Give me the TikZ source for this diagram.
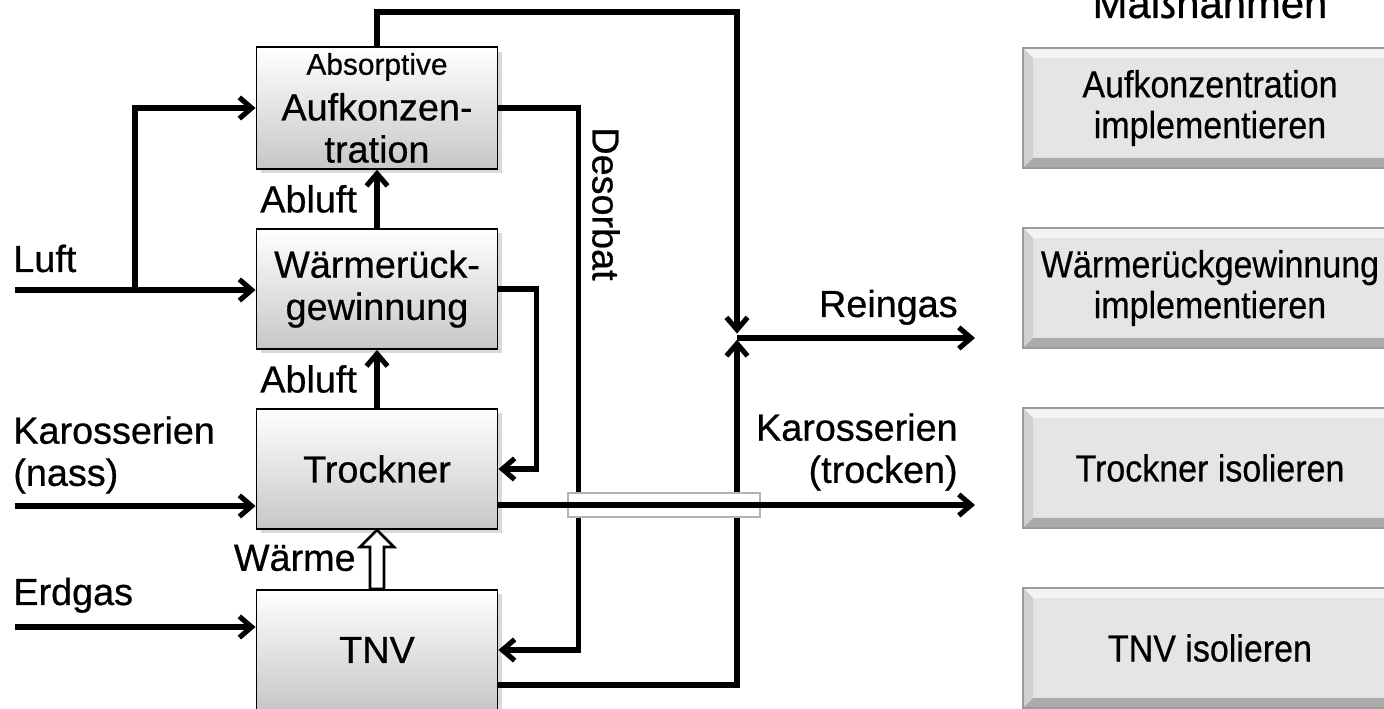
\documentclass[tikz,border=0pt]{standalone}
\usepackage{fontspec}
\setmainfont[FakeBold=0.6,AutoFakeBold=0.6]{Liberation Sans}
\newfontfamily\narrowsans[FakeStretch=0.9,FakeBold=0.5]{Liberation Sans}
\usepackage{tikz}
\usetikzlibrary{arrows.meta,positioning,calc,shadows}
\definecolor{btnface}{HTML}{E5E5E5}
\definecolor{btnedge}{HTML}{9C9C9C}
\definecolor{bvtop}{HTML}{F4F4F4}
\definecolor{bvleft}{HTML}{D0D0D0}
\definecolor{bvbot}{HTML}{ABABAB}
\definecolor{bvright}{HTML}{BEBEBE}
\newcommand{\bigfont}{\fontsize{21.5}{24}\selectfont}
\newcommand{\smallfont}{\fontsize{17}{19}\selectfont}
\tikzset{
  unit/.style={draw, line width=1.1pt, top color=white, bottom color=black!22, minimum width=4.82cm, minimum height=2.4cm, align=center, font=\bigfont, drop shadow={shadow xshift=2.5pt, shadow yshift=-2.5pt, opacity=0.3}},
  btn/.style={draw=btnedge, line width=0.8pt, fill=btnface, minimum width=7.48cm, minimum height=2.4cm, align=center, font=\narrowsans\fontsize{21.5}{23.2}\selectfont,
    path picture={
      \coordinate (nw) at (path picture bounding box.north west);
      \coordinate (ne) at (path picture bounding box.north east);
      \coordinate (sw) at (path picture bounding box.south west);
      \coordinate (se) at (path picture bounding box.south east);
      \fill[bvtop] (nw) -- (ne) -- ([shift={(-0.2cm,-0.2cm)}]ne) -- ([shift={(0.2cm,-0.2cm)}]nw) -- cycle;
      \fill[bvleft] (nw) -- (sw) -- ([shift={(0.2cm,0.2cm)}]sw) -- ([shift={(0.2cm,-0.2cm)}]nw) -- cycle;
      \fill[bvbot] (sw) -- (se) -- ([shift={(-0.2cm,0.2cm)}]se) -- ([shift={(0.2cm,0.2cm)}]sw) -- cycle;
      \fill[bvright] (ne) -- (se) -- ([shift={(-0.2cm,0.2cm)}]se) -- ([shift={(-0.2cm,-0.2cm)}]ne) -- cycle;
    }},
  lbl/.style={font=\bigfont, inner sep=0pt},
  pipe/.style={line width=2.9pt},
  flow/.style={pipe, -{Straight Barb[length=7pt,width=12pt]}},
  hollow/.style={line width=1.5pt, fill=white},
  bridge/.style={draw=black!30, fill=white, line width=0.6pt}
}
\begin{document}
\begin{tikzpicture}[x=0.02cm, y=-0.02cm]
\useasboundingbox (0,0) rectangle (1384,709);
% process units
\node[unit] (aufk) at (377,108) {{\smallfont Absorptive}\\[2pt]Aufkonzen-\\tration};
\node[unit] (wrg) at (377,289) {Wärmerück-\\gewinnung};
\node[unit] (troc) at (377,469) {Trockner};
\node[unit] (tnv) at (377,650) {TNV};
% measures
\node[font=\fontsize{23.8}{26}\selectfont, anchor=base] (head) at (1210,18) {Maßnahmen};
\node[btn] (m1) at (1210,108) {Aufkonzentration\\implementieren};
\node[btn] (m2) at (1210,288) {Wärmerückgewinnung\\implementieren};
\node[btn] (m3) at (1210,468) {Trockner isolieren};
\node[btn] (m4) at (1210,648) {TNV isolieren};
% ends of the streams
\coordinate (luft) at (15,290);
\coordinate (split) at (135,290);
\coordinate (kin) at (15,506);
\coordinate (gas) at (15,627);
\coordinate (top) at (737,12);
\coordinate (mix) at (737,338);
\coordinate (rein) at (975,338);
\coordinate (kout) at (975,505);
% inputs
\draw[flow] (luft) -- (luft -| wrg.west);
\draw[flow] (split) |- (aufk.west);
\draw[flow] (kin) -- (kin -| troc.west);
\draw[flow] (gas) -- (gas -| tnv.west);
\node[lbl, anchor=base west] (lluft) at (13,272) {Luft};
\node[lbl, anchor=west, align=left] (lkin) at (13,455) {Karosserien\\(nass)};
\node[lbl, anchor=base west] (lgas) at (13,605) {Erdgas};
% exhaust air upwards
\draw[flow] (troc) -- node[lbl, left=10pt] (lab1) {Abluft} (wrg);
\draw[flow] (wrg) -- node[lbl, left=10pt] (lab2) {Abluft} (aufk);
\draw[hollow] ($(tnv.north)+(-7,0)$) -- ($(troc.south)+(-7,17)$) -- ($(troc.south)+(-17,17)$) -- (troc.south)
  -- ($(troc.south)+(17,17)$) -- ($(troc.south)+(7,17)$) -- ($(tnv.north)+(7,0)$) -- cycle;
\node[lbl, anchor=east] (lheat) at (356,558) {Wärme};
% recycle loops
\draw[flow] (wrg.east) -| ($(troc.east)+(38,0)$) -- (troc.east);
\draw[flow] (aufk.east) -| ($(tnv.east)+(80,0)$) -- (tnv.east);
\node[lbl, rotate=-90] (ldes) at (606,204) {Desorbat};
\draw[flow, shorten >=2.5pt] (aufk.north) |- (top) -- (mix);
\draw[flow, shorten >=1pt] ($(tnv.east)+(0,35)$) -| (mix);
% outputs
\draw[flow] (mix) -- (rein);
\node[lbl, anchor=base east] (lrein) at (958,317) {Reingas};
\draw[bridge] (568,493) rectangle (760,517);
\draw[flow] ($(troc.east)+(0,36)$) -- (kout);
\node[lbl, anchor=east, align=right] (lkout) at (958,452) {Karosserien\\(trocken)};
\end{tikzpicture}
\end{document}
